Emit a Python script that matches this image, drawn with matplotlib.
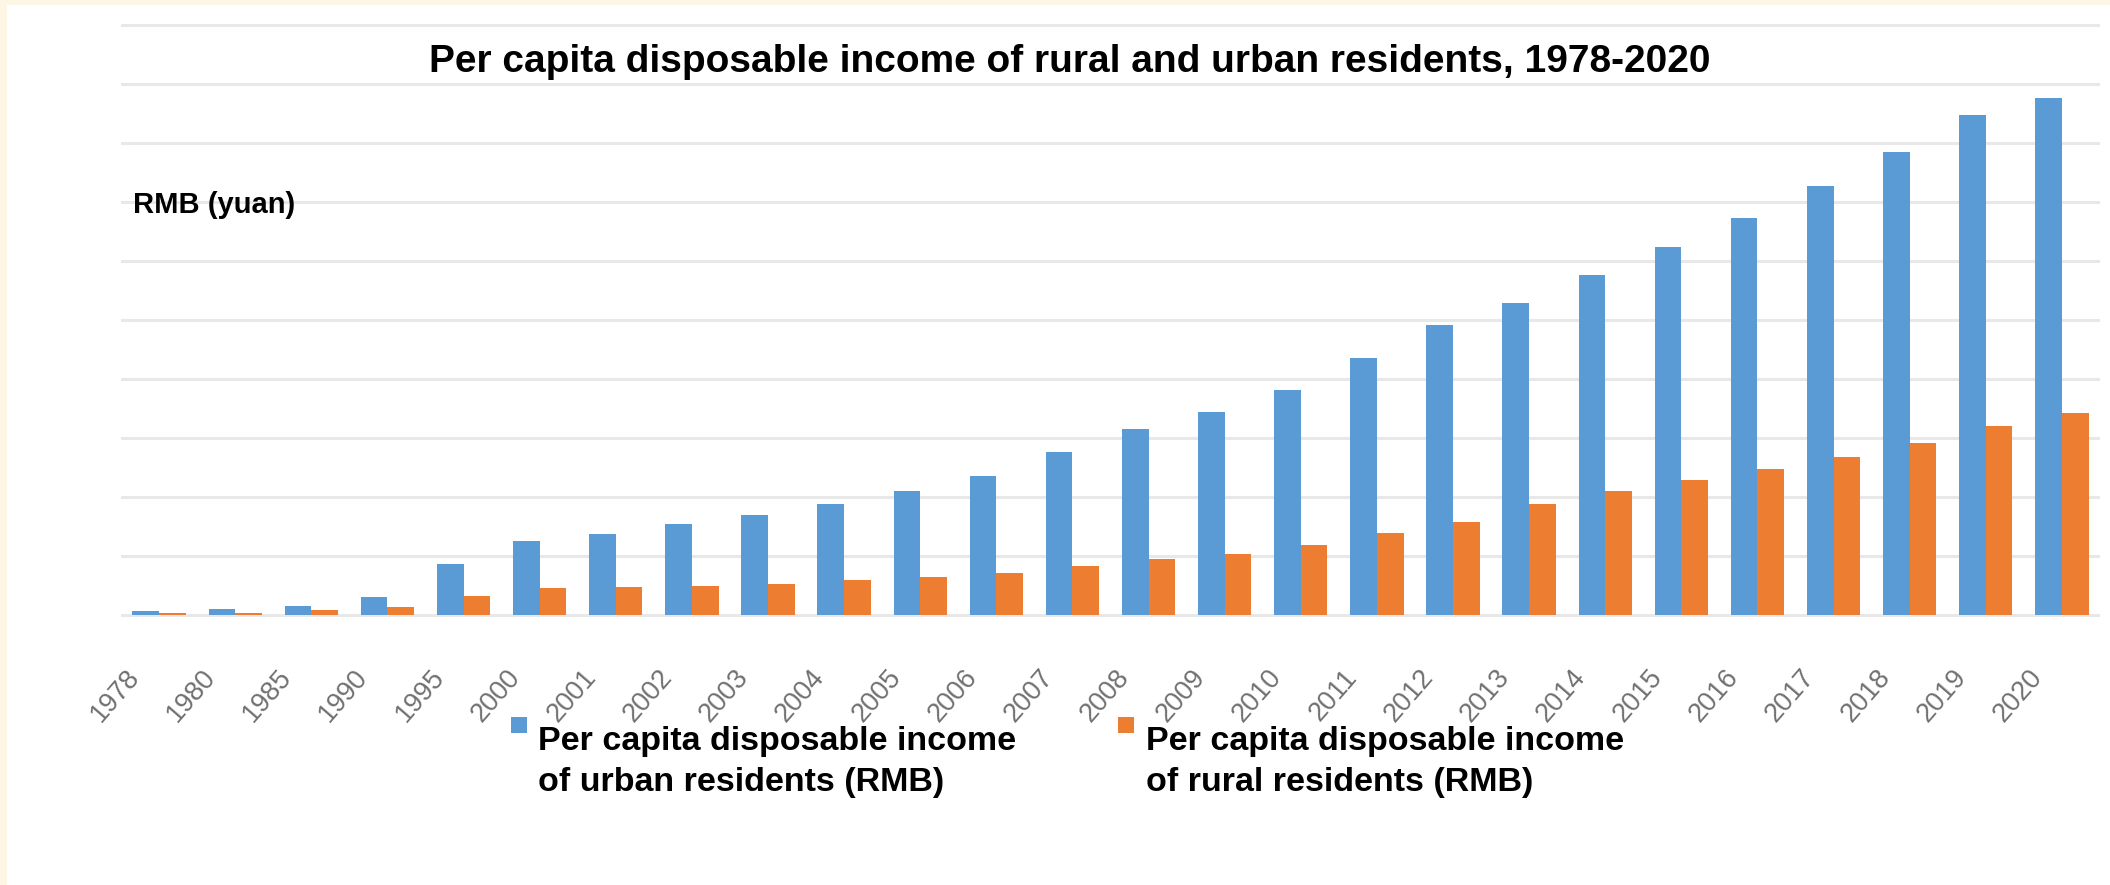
import numpy as np
import matplotlib
matplotlib.use("Agg")
import matplotlib.pyplot as plt
from matplotlib.patches import Rectangle
from matplotlib.transforms import ScaledTranslation

plt.rcParams['font.family'] = ['Liberation Sans', 'DejaVu Sans']

# Per capita disposable income, RMB (yuan)
years = ['1978', '1980', '1985', '1990', '1995', '2000', '2001', '2002', '2003',
         '2004', '2005', '2006', '2007', '2008', '2009', '2010', '2011', '2012',
         '2013', '2014', '2015', '2016', '2017', '2018', '2019', '2020']
urban = [343, 478, 739, 1510, 4283, 6280, 6860, 7703, 8472, 9422, 10493, 11759,
         13786, 15781, 17175, 19109, 21810, 24565, 26467, 28844, 31195, 33616,
         36396, 39251, 42359, 43834]
rural = [134, 191, 398, 686, 1578, 2253, 2366, 2476, 2622, 2936, 3255, 3587,
         4140, 4761, 5153, 5919, 6977, 7917, 9430, 10489, 11422, 12363, 13432,
         14617, 16021, 17131]

title = 'Per capita disposable income of rural and urban residents, 1978-2020'
unit_label = 'RMB (yuan)'
legend_labels = ['Per capita disposable income\nof urban residents (RMB)',
                 'Per capita disposable income\nof rural residents (RMB)']

BLUE = '#5B9BD5'
ORANGE = '#ED7D31'
W, H = 2110, 885

fig = plt.figure(figsize=(W / 100, H / 100), dpi=100)
fig.patch.set_facecolor('white')

# pale frame along the top and left edges
fig.add_artist(Rectangle((0, 1 - 5 / H), 1, 5 / H, transform=fig.transFigure,
                         color='#FEF6E4', lw=0))
fig.add_artist(Rectangle((0, 0), 7 / W, 1, transform=fig.transFigure,
                         color='#FEF6E4', lw=0))

# axes: baseline at y=615px, 50000 at y=25px
y_lo, y_hi = -400, 50400
px_per_unit = 590 / 50000
ax_bottom = 615 + (0 - y_lo) * px_per_unit
ax_height = (y_hi - y_lo) * px_per_unit
ax = fig.add_axes([121 / W, 1 - ax_bottom / H, 1979 / W, ax_height / H])

x = np.arange(len(years))
bw = 0.35
ax.bar(x - bw / 2, urban, bw, color=BLUE, zorder=3)
ax.bar(x + bw / 2, rural, bw, color=ORANGE, zorder=3)

ax.set_xlim(-0.5, len(years) - 0.5)
ax.set_ylim(y_lo, y_hi)
ax.set_yticks(np.arange(0, 50001, 5000))
ax.yaxis.grid(True, color='#E8E8E8', lw=2.2)
ax.set_axisbelow(True)
ax.tick_params(axis='y', left=False, labelleft=False)
for s in ax.spines.values():
    s.set_visible(False)

ax.set_xticks(x)
ax.set_xticklabels(years, rotation=49, ha='right', va='top', fontsize=19.5,
                   color='#707070')
ax.tick_params(axis='x', length=0, pad=32)
shift = ScaledTranslation(-14 / 100, 0, fig.dpi_scale_trans)
for lbl in ax.get_xticklabels():
    lbl.set_transform(lbl.get_transform() + shift)

fig.text(1070 / W, 1 - 72 / H, title, ha='center', va='baseline',
         fontsize=28, fontweight='bold', color='black')
fig.text(133 / W, 1 - 213 / H, unit_label, ha='left', va='baseline',
         fontsize=21, fontweight='bold', color='black')

# legend below the axis
for mx, tx, col, lab in [(511, 538, BLUE, legend_labels[0]),
                         (1118, 1146, ORANGE, legend_labels[1])]:
    fig.add_artist(Rectangle((mx / W, 1 - 733 / H), 16 / W, 16 / H,
                             transform=fig.transFigure, color=col, lw=0))
    fig.text(tx / W, 1 - 726 / H, lab, ha='left', va='top', fontsize=24.5,
             fontweight='bold', color='black', linespacing=1.42)

fig.savefig('out.png', dpi=100)
